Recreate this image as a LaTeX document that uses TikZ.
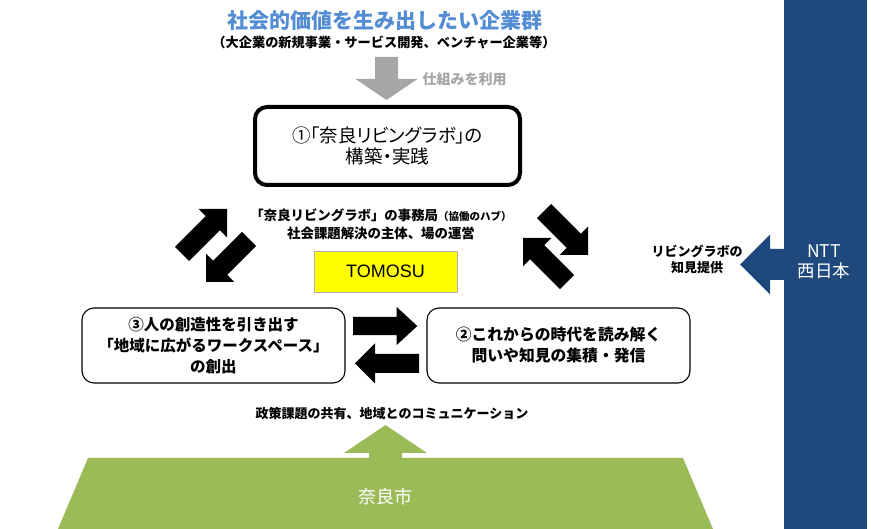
\documentclass[tikz,border=0pt]{standalone}
\usepackage{fontspec}
\setmainfont{Noto Sans CJK JP}
\newfontfamily\jpp{Noto Sans CJK JP}[RawFeature=+palt]
\newfontfamily\arialfont{Liberation Sans}
\usetikzlibrary{calc}
\definecolor{titleblue}{HTML}{548DD4}
\definecolor{nttblue}{HTML}{1F497D}
\definecolor{grn}{HTML}{9BBB59}
\definecolor{gry}{HTML}{A6A6A6}
\definecolor{ylw}{HTML}{FFFF00}
\newcommand{\fs}[2]{\fontsize{#1}{#2}\selectfont}
% block arrow: tail, tip, half shaft width, half head width, head length, style
\newcommand{\blockarrow}[6]{%
  \coordinate (ba-t) at (#1);
  \coordinate (ba-p) at (#2);
  \coordinate (ba-h) at ($(ba-p)!#5!(ba-t)$);
  \fill[#6] ($(ba-t)!#3!90:(ba-p)$) -- ($(ba-h)!#3!90:(ba-p)$) -- ($(ba-h)!#4!90:(ba-p)$)
     -- (ba-p) -- ($(ba-h)!#4!-90:(ba-p)$) -- ($(ba-h)!#3!-90:(ba-p)$)
     -- ($(ba-t)!#3!-90:(ba-p)$) -- cycle;
}
\begin{document}
\begin{tikzpicture}[x=1pt,y=-1pt,
  txt/.style={inner sep=0pt, align=center},
  bigbox/.style={draw=black, line width=4pt, rounded corners=12pt, fill=white, align=center, inner sep=0pt},
  smallbox/.style={draw=black, line width=1.1pt, rounded corners=12pt, fill=white, align=center, inner sep=0pt},
  blk/.style={fill=black}]
\useasboundingbox (0,0) rectangle (871,529);
\fill[white] (0,0) rectangle (871,529);

% NTT bar
\fill[nttblue] (784,0) rectangle (867,529);
\node[txt, text=white, font=\fs{17.5}{20}] (ntt) at (824,262) {NTT\\西日本};
\coordinate (nttL) at (786,264.5);
\coordinate (knowTip) at (740,264.5);
\blockarrow{nttL}{knowTip}{15.5pt}{30pt}{30pt}{nttblue}
\node[txt, font=\bfseries\fs{13}{15.5}] (know) at (697,259.5) {リビングラボの\\知見提供};

% title
\node[txt, text=titleblue, font=\bfseries\fs{21}{24}] (title) at (385,20) {社会的価値を生み出したい企業群};
\node[txt, font=\bfseries\fs{13.2}{15}] (sub) at (384,42) {（大企業の新規事業・サービス開発、ベンチャー企業等）};
\coordinate (gT) at (386.5,57);
\coordinate (gP) at (386.5,100);
\blockarrow{gT}{gP}{11.5pt}{31pt}{21pt}{gry}
\node[txt, text=gry, font=\bfseries\fs{14}{16}] (use) at (464.5,79) {仕組みを利用};

% box 1
\node[bigbox, minimum width=265pt, minimum height=78pt, font=\jpp\fs{18.5}{21}] (b1) at (387.5,146) {①「奈良リビングラボ」の\\構築・実践};

% hub
\node[txt, font=\bfseries\fs{13.4}{18}] (hub) at (381,224) {「奈良リビングラボ」の事務局{\fs{10.5}{12}（協働のハブ）}\\社会課題解決の主体、場の運営};
\node[draw=black!30, fill=ylw, minimum width=143pt, minimum height=41pt, inner sep=0pt, font=\arialfont\fs{18}{20}] (tomosu) at (385.5,271.5) {TOMOSU};

% diagonal arrows
\coordinate (l1t) at (182,254); \coordinate (l1p) at (227,209);
\blockarrow{l1t}{l1p}{10pt}{20pt}{20pt}{blk}
\coordinate (l2t) at (249,239); \coordinate (l2p) at (206,282);
\blockarrow{l2t}{l2p}{10pt}{20pt}{20pt}{blk}
\coordinate (r1t) at (544,211); \coordinate (r1p) at (588,255);
\blockarrow{r1t}{r1p}{10pt}{20pt}{20pt}{blk}
\coordinate (r2t) at (567,282); \coordinate (r2p) at (523,238);
\blockarrow{r2t}{r2p}{10pt}{20pt}{20pt}{blk}

% boxes 3 and 2
\node[smallbox, minimum width=263pt, minimum height=75pt, font=\bfseries\fs{15.5}{21}] (b3) at (213.5,345.5) {③人の創造性を引き出す\\「地域に広がるワークスペース」\\の創出};
\node[smallbox, minimum width=263pt, minimum height=75pt, font=\bfseries\fs{15.8}{21}] (b2) at (558.5,345.5) {②これからの時代を読み解く\\問いや知見の集積・発信};
\coordinate (h1t) at (353,326); \coordinate (h1p) at (417.3,326);
\blockarrow{h1t}{h1p}{9.2pt}{19pt}{20.6pt}{blk}
\coordinate (h2t) at (419,363.3); \coordinate (h2p) at (355,363.3);
\blockarrow{h2t}{h2p}{9.5pt}{20pt}{20pt}{blk}

% Nara city
\node[txt, font=\bfseries\fs{13}{15}] (policy) at (392,414) {政策課題の共有、地域とのコミュニケーション};
\fill[grn] (88,458) -- (683,458) -- (713,529) -- (58,529) -- cycle;
\coordinate (gnT) at (385.5,462);
\coordinate (gnP) at (385.5,425);
\blockarrow{gnT}{gnP}{16.5pt}{41.5pt}{28pt}{grn}
\node[txt, text=white, font=\fs{18}{20}] (nara) at (385.5,497) {奈良市};
\end{tikzpicture}
\end{document}
